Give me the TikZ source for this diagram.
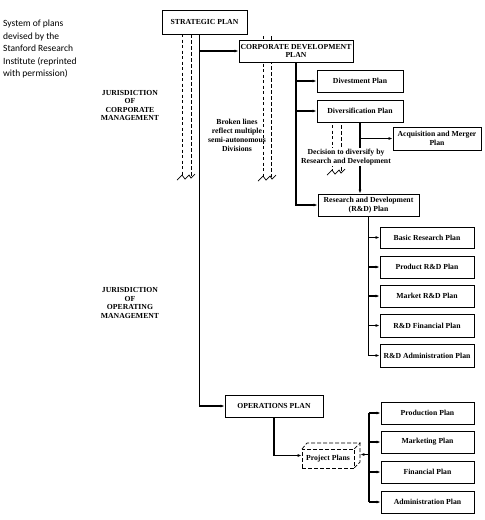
\documentclass[tikz,border=0pt]{standalone}
\usepackage{fontspec}
\setmainfont{Liberation Serif}
\newfontfamily\capfont{Carlito}
\usetikzlibrary{arrows.meta,calc}
\begin{document}
\begin{tikzpicture}[x=1pt,y=-1pt,
  box/.style={draw,line width=0.9pt,fill=white,inner sep=0pt,align=center,font=\fontsize{7.7}{8.8}\selectfont\bfseries},
  arr/.style={line width=1.1pt,-{Latex[length=4pt,width=3pt]}},
  ln/.style={line width=1.1pt},
  dl/.style={line width=1pt,dash pattern=on 3pt off 2.5pt},
  dr/.style={line width=0.7pt,dash pattern=on 4pt off 2pt},
  zz/.style={line width=0.7pt},
  lbl/.style={align=center,font=\fontsize{7.7}{8.6}\selectfont\bfseries,inner sep=0pt}]
\useasboundingbox[fill=white] (0,0) rectangle (485,520);

% caption
\node[anchor=north west,align=left,inner sep=0pt,font=\capfont\fontsize{9.5}{12.5}\selectfont] (cap) at (3,20)
  {System of plans\\devised by the\\Stanford Research\\Institute (reprinted\\with permission)};

% broken lines (divisions)
\draw[dl] (182,34) -- (182,176);
\draw[dr] (191,34) -- (191,176);
\draw[zz] (177,180) -- (182,175) -- (185,179) -- (189,175) -- (191,178) -- (195,174);
\draw[dl] (263,36) -- (263,177);
\draw[dr] (271,36) -- (271,177);
\draw[zz] (258,181) -- (263,176) -- (266,180) -- (270,176) -- (272,179) -- (276,175);
\draw[dl] (332,125) -- (332,171);
\draw[dr] (341,125) -- (341,171);
\draw[zz] (327,175) -- (332,170) -- (335,174) -- (339,170) -- (341,173) -- (345,169);

% boxes
\node[box,minimum width=85,minimum height=24] (sp) at (204.5,22) {STRATEGIC PLAN};
\node[box,minimum width=114,minimum height=22] (cd) at (296,51) {CORPORATE DEVELOPMENT\\PLAN};
\node[box,minimum width=86,minimum height=22] (dv) at (360,81) {Divestment Plan};
\node[box,minimum width=86,minimum height=22] (dvs) at (360,111) {Diversification Plan};
\node[box,minimum width=88,minimum height=23] (acq) at (437,138.5) {Acquisition and Merger\\Plan};
\node[box,minimum width=101,minimum height=22] (rd) at (368.5,205) {Research and Development\\(R\&D) Plan};
\node[box,minimum width=94,minimum height=21] (b1) at (427,237.5) {Basic Research Plan};
\node[box,minimum width=94,minimum height=22] (b2) at (427,267) {Product R\&D Plan};
\node[box,minimum width=94,minimum height=22] (b3) at (427,296) {Market R\&D Plan};
\node[box,minimum width=94,minimum height=23] (b4) at (427,325.5) {R\&D Financial Plan};
\node[box,minimum width=94,minimum height=23] (b5) at (427,355.5) {R\&D Administration Plan};
\node[box,minimum width=98,minimum height=22] (ops) at (274,406) {OPERATIONS PLAN};
\node[box,minimum width=93,minimum height=22] (pr) at (427.5,413) {Production Plan};
\node[box,minimum width=93,minimum height=22] (mk) at (427.5,442) {Marketing Plan};
\node[box,minimum width=93,minimum height=22] (fi) at (427.5,472) {Financial Plan};
\node[box,minimum width=93,minimum height=22] (ad) at (427.5,502) {Administration Plan};

% project plans (dashed 3D box)
\draw[dr,fill=white] (302,449) -- (307,443) -- (360,443) -- (360,462) -- (354,468) -- cycle;
\node[box,dr,minimum width=52,minimum height=19] (pp) at (328,458.5) {Project Plans};
\draw[dr] (pp.north east) -- ++(6,-6);

% labels
\node[lbl] (jc) at (130,105.5) {JURISDICTION\\OF\\CORPORATE\\MANAGEMENT};
\node[lbl] (jo) at (130,303) {JURISDICTION\\OF\\OPERATING\\MANAGEMENT};
\node[lbl,font=\fontsize{7.7}{9}\selectfont\bfseries] (bl) at (237,135.5) {Broken lines\\reflect multiple\\semi-autonomous\\Divisions};

% connectors
\coordinate (t1) at ($(sp.south west)!0.447!(sp.south east)$);
\draw[arr] (t1) |- (ops.west);
\draw[arr] (t1 |- cd.west) -- (cd.west);

\draw[arr] (cd.south) |- (rd.west);
\draw[arr] (cd.south |- dv.west) -- (dv.west);
\draw[arr] (cd.south |- dvs.west) -- (dvs.west);

\draw[arr] (dvs.south) -- (dvs.south |- rd.north);
\draw[arr] (dvs.south |- acq.west) -- (acq.west);

\draw[arr] (rd.south) |- (b5.west);
\draw[arr] (rd.south |- b1.west) -- (b1.west);
\draw[arr] (rd.south |- b2.west) -- (b2.west);
\draw[arr] (rd.south |- b3.west) -- (b3.west);
\draw[arr] (rd.south |- b4.west) -- (b4.west);

\coordinate (pw) at ($(pp.west)+(0,-3)$);
\draw[arr] (ops.south) |- (pw);

\coordinate (tx) at (369,0);
\coordinate (pe) at ($(pp.east)+(6,-4)$);
\draw[ln] (pr.west -| tx) -- (ad.west -| tx);
\draw[arr] (pe -| tx) -- (pe);
\draw[arr] (pr.west -| tx) -- (pr.west);
\draw[arr] (mk.west -| tx) -- (mk.west);
\draw[arr] (fi.west -| tx) -- (fi.west);
\draw[arr] (ad.west -| tx) -- (ad.west);

% decision label over the diversification line
\node[lbl,fill=white,inner sep=1pt,font=\fontsize{7.7}{9.5}\selectfont\bfseries] (dec) at (346,157) {Decision to diversify by\\Research and Development};
\end{tikzpicture}
\end{document}
